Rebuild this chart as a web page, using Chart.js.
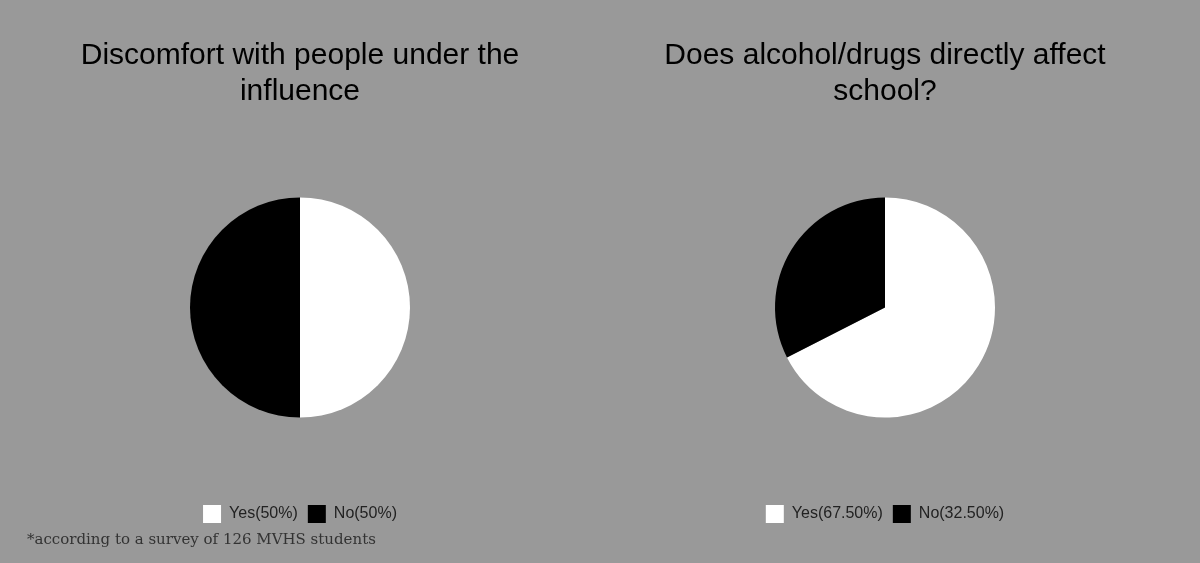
<!DOCTYPE html>
<html><head><meta charset="utf-8">
<script src="https://cdn.jsdelivr.net/npm/chart.js@4"></script>
<style>
body{margin:0;background:#999;width:1200px;height:563px;overflow:hidden;position:relative}
.box{position:absolute;top:0;width:600px;height:563px}
#note{position:absolute;left:27px;top:530px;font:15px "DejaVu Serif","Liberation Serif",serif;color:#333}
</style></head><body>
<div class="box" style="left:0"><canvas id="c1"></canvas></div>
<div class="box" style="left:585px"><canvas id="c2"></canvas></div>
<div id="note">*according to a survey of 126 MVHS students</div>
<script>
const titles = [['Discomfort with people under the', 'influence'], ['Does alcohol/drugs directly affect', 'school?']];
const labels1 = ['Yes(50%)', 'No(50%)'];
const values1 = [50, 50];
const labels2 = ['Yes(67.50%)', 'No(32.50%)'];
const values2 = [67.5, 32.5];

function makePie(id, title, labels, values) {
    new Chart(document.getElementById(id), {
        type: 'pie',
        data: { labels, datasets: [{ data: values, backgroundColor: ['#fff', '#000'], borderWidth: 0, radius: 110 }] },
        options: {
            responsive: true, maintainAspectRatio: false, animation: false,
            layout: { padding: { bottom: 30 } },
            plugins: {
                title: { display: true, text: title, color: '#000', padding: { top: 38, bottom: 10 },
                    font: { family: 'Liberation Sans, Arial, sans-serif', size: 30, weight: 'normal' } },
                legend: { position: 'bottom',
                    labels: { color: '#222', boxWidth: 18, boxHeight: 18, font: { family: 'Liberation Sans, Arial', size: 16 } } },
                tooltip: { enabled: false }
            }
        }
    });
}
makePie('c1', titles[0], labels1, values1);
makePie('c2', titles[1], labels2, values2);
</script>
</body></html>
